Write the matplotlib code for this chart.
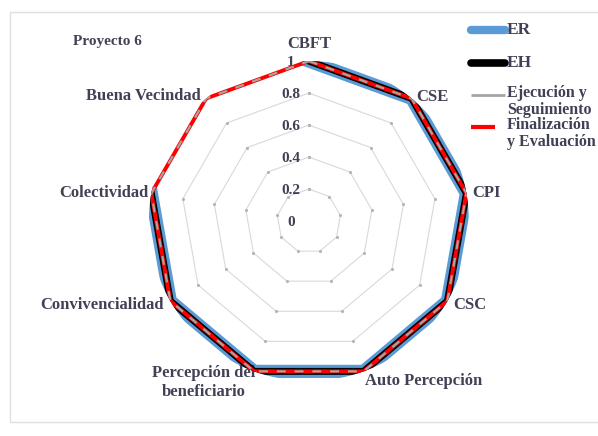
import numpy as np
import matplotlib.pyplot as plt
from matplotlib.lines import Line2D
from matplotlib.patches import Rectangle

# data
categories = ["CBFT", "CSE", "CPI", "CSC", "Auto Percepción",
              "Percepción del\nbeneficiario", "Convivencialidad",
              "Colectividad", "Buena Vecindad"]
er = [1, 1, 1, 1, 1, 1, 1, 1, np.nan]
eh = [1, 1, 1, 1, 1, 1, 1, 1, np.nan]
ejecucion = [1, 1, 1, 1, 1, 1, 1, 1, 1]
finalizacion = [1, 1, 1, 1, 1, 1, 1, 1, 1]
levels = [0.2, 0.4, 0.6, 0.8, 1.0]
tick_labels = ["0", "0.2", "0.4", "0.6", "0.8", "1"]

txt_color = "#414155"
serif = "Liberation Serif"

n = len(categories)
theta = np.linspace(0, 2 * np.pi, n, endpoint=False)
theta_c = np.append(theta, theta[0])


def closed(vals):
    return np.append(vals, vals[0])


fig = plt.figure(figsize=(5.98, 4.36), dpi=100)
fig.add_artist(Rectangle((10 / 598, 1 - 422 / 436), 600 / 598, 410 / 436,
                         transform=fig.transFigure, fill=False,
                         edgecolor="#e0e0e0", lw=1))

ax = fig.add_axes([0.249, 0.126, 0.535, 0.734], projection="polar")
ax.set_theta_zero_location("N")
ax.set_theta_direction(-1)
ax.set_ylim(0, 1)
ax.grid(False)
ax.set_xticks([])
ax.set_yticks([])
ax.spines["polar"].set_visible(False)
ax.patch.set_alpha(0)

# polygon grid
for lv in levels:
    ax.plot(theta_c, [lv] * (n + 1), color="#d9d9d9", lw=0.8,
            marker=".", ms=2.5, mec="#b5b5b5", mfc="#b5b5b5", zorder=1)

# series
ax.plot(theta_c, closed(er), color="#5B9BD5", lw=9.5, zorder=3,
        solid_joinstyle="miter")
ax.plot(theta_c, closed(eh), color="black", lw=5, zorder=4,
        solid_joinstyle="miter")
ax.plot(theta_c, closed(finalizacion), color="#FF0000", lw=2.8, zorder=5)
ax.plot(theta_c, closed(ejecucion), color="#A5A5A5", lw=1.6, zorder=6,
        dashes=(4, 4))

# radial tick labels
for i, lab in enumerate(tick_labels):
    ax.annotate(lab, xy=(0, i * 0.2), xytext=(-13, -1), textcoords="offset points",
                ha="center", va="center", fontsize=11, fontweight="bold",
                family=serif, color=txt_color)

# category labels
offsets = [((0, 12), "center", "center"),
           ((3, 1), "left", "center"),
           ((4, 0), "left", "center"),
           ((4, -3), "left", "center"),
           ((1, -7), "left", "center"),
           ((-36, -8), "center", "center"),
           ((-5, -3), "right", "center"),
           ((-2, 0), "right", "center"),
           ((-4, 2), "right", "center")]
for t, lab, (off, ha, va) in zip(theta, categories, offsets):
    ax.annotate(lab, xy=(t, 1), xytext=off, textcoords="offset points",
                ha=ha, va=va, fontsize=12, fontweight="bold", family=serif,
                color=txt_color, linespacing=1.25)

fig.text(73 / 598, 1 - 42 / 436, "Proyecto 6", ha="left", va="center",
         fontsize=11, fontweight="bold", family=serif, color=txt_color)

# legend drawn by hand to match the overlapping layout
legend_items = [("ER", "#5B9BD5", 6, 30, 505),
                ("EH", "black", 5.5, 63, 505),
                ("Ejecución y\nSeguimiento", "#A5A5A5", 2, 95, 505),
                ("Finalización\ny Evaluación", "#FF0000", 3, 127, 495)]
for lab, col, lw, y, x_end in legend_items:
    yf = 1 - y / 436
    fig.add_artist(Line2D([471 / 598, x_end / 598], [yf, yf], color=col, lw=lw,
                          solid_capstyle="round" if lw > 4 else "butt"))
    if "\n" in lab:
        fig.text(507 / 598, yf + 10 / 436, lab, ha="left", va="top",
                 fontsize=11.5, fontweight="bold", family=serif,
                 color=txt_color, linespacing=1.05)
    else:
        fig.text(507 / 598, yf, lab, ha="left", va="center",
                 fontsize=12.5, fontweight="bold", family=serif,
                 color=txt_color)

fig.savefig("out.png", dpi=100)
